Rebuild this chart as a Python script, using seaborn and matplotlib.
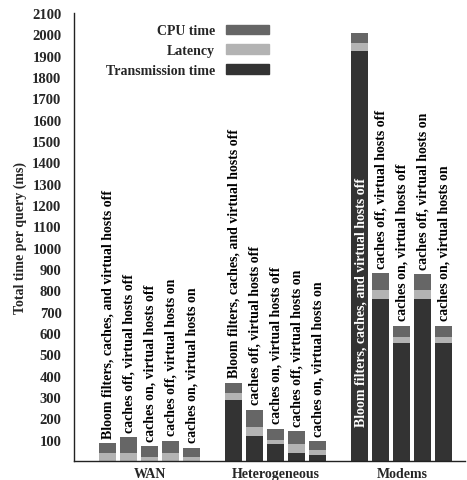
#Import libraries
import pandas as pd
import matplotlib.pyplot as plt
from matplotlib.patches import Patch
import seaborn as sns

#Data (ms per query)
groups = ["WAN", "Heterogeneous", "Modems"]
configs = [
    "Bloom filters, caches, and virtual hosts off",
    "caches off, virtual hosts off",
    "caches on, virtual hosts off",
    "caches off, virtual hosts on",
    "caches on, virtual hosts on",
]
transmission = [0, 0, 0, 0, 0,
                284, 116, 80, 39, 30,
                1921, 758, 555, 758, 555]
latency = [36, 36, 19, 36, 19,
           35, 42, 18, 39, 20,
           39, 44, 26, 44, 26]
cpu = [47, 75, 50, 58, 42,
       47, 81, 52, 61, 42,
       45, 78, 52, 73, 52]
y_ticks = list(range(100, 2200, 100))

#Build the dataframe, one row per bar
rows = []
for g, group in enumerate(groups):
    for i, config in enumerate(configs):
        k = g * len(configs) + i
        rows.append({
            "group": group,
            "config": config,
            "x": g * (len(configs) + 1) + i,
            "trans": transmission[k],
            "lat": latency[k],
            "cpu": cpu[k],
        })
df = pd.DataFrame(rows)
df["mid"] = df["trans"] + df["lat"]
df["total"] = df["mid"] + df["cpu"]

#Style
sns.set_style("white")
plt.rcParams["font.family"] = ["Liberation Serif", "DejaVu Serif"]
plt.rcParams["font.weight"] = "bold"
plt.rcParams["axes.labelweight"] = "bold"

dark, light, mid_gray = "#333333", "#b3b3b3", "#666666"

fig = plt.figure(figsize=(4.67, 4.81), dpi=100)
ax = fig.add_axes([0.1585, 0.0395, 0.8372, 0.9315])

#Stacked bars: draw the totals first, then the lower parts over them
for col, color in [("total", mid_gray), ("mid", light), ("trans", dark)]:
    sns.barplot(data=df, x="x", y=col, native_scale=True, color=color,
                saturation=1, width=0.81, errorbar=None, linewidth=0, ax=ax)

#Bar labels
for _, r in df.iterrows():
    if r["total"] > 1500:
        ax.annotate(r["config"], (r["x"], 0), xytext=(0.8, 25),
                    textcoords="offset points", rotation=90, ha="center",
                    va="bottom", fontsize=10, fontweight="bold", color="white")
    else:
        ax.annotate(r["config"], (r["x"], r["total"]), xytext=(0, 4),
                    textcoords="offset points", rotation=90, ha="center",
                    va="bottom", fontsize=10, fontweight="bold", color="black")

ax.set_xlim(-1.6, 17.0)
ax.set_ylim(0, 2100)
ax.set_yticks(y_ticks)
ax.set_yticklabels([str(t) for t in y_ticks], fontsize=10.5, fontweight="bold")
centers = df.groupby("group", sort=False)["x"].mean()
ax.set_xticks(list(centers.values))
ax.set_xticklabels(list(centers.index), fontsize=10, fontweight="bold")
ax.tick_params(axis="x", length=0, pad=4)
ax.tick_params(axis="y", direction="inout", length=6, width=1, pad=6)
ax.set_xlabel("")
ax.set_ylabel("Total time per query (ms)", fontsize=10, fontweight="bold")

sns.despine(ax=ax)
for side in ["left", "bottom"]:
    ax.spines[side].set_color("#222222")
    ax.spines[side].set_linewidth(1)

#Legend: text first, sample on the right
handles = [Patch(color=mid_gray, label="CPU time"),
           Patch(color=light, label="Latency"),
           Patch(color=dark, label="Transmission time")]
fig.legend(handles=handles, loc="upper right", bbox_to_anchor=(0.591, 0.962),
           frameon=False, markerfirst=False, handlelength=3.1,
           handleheight=0.7, labelspacing=0.5, handletextpad=0.8, borderpad=0,
           prop={"weight": "bold", "size": 10})

plt.savefig("out.png", dpi=100)
print("File Saved")
